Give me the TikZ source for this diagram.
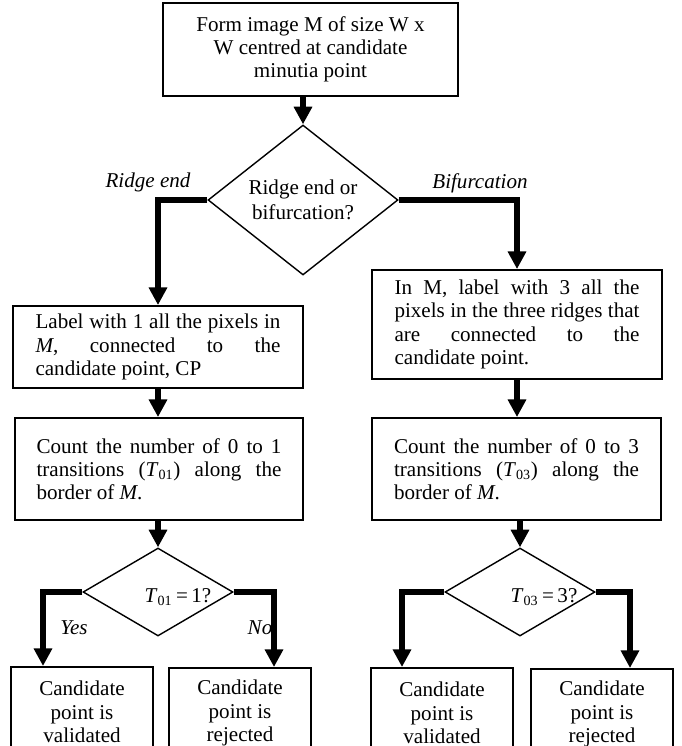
\documentclass[tikz,border=0pt]{standalone}
\usepackage{fontspec}
\setmainfont{Liberation Serif}
\usetikzlibrary{arrows.meta,shapes.geometric}

\begin{document}
\begin{tikzpicture}[x=0.02cm, y=-0.02cm,
  flow/.style={draw=black, line width=1.1pt, inner sep=0pt, align=center,
    font=\fontsize{12}{13.2}\selectfont},
  flowj/.style={flow, text width=4.9cm, align=justify},
  decide/.style={draw=black, line width=0.8pt, diamond, inner sep=0pt,
    align=center, font=\fontsize{12}{14}\selectfont},
  endbox/.style={flow, minimum width=2.84cm, minimum height=1.8cm, anchor=north},
  arr/.style={-{Triangle[length=10pt,width=10pt]}, line width=3.2pt},
  lbl/.style={font=\fontsize{12}{13}\selectfont\itshape}
]
  \useasboundingbox (0,0) rectangle (681,746);
  \node[flow, minimum width=5.9cm, minimum height=1.86cm] (form) at (310.5,49.5)
    {Form image M of size W x\\W centred at candidate\\minutia point};
  \node[decide, minimum width=3.8cm, minimum height=3cm] (choice) at (303,200)
    {Ridge end or\\bifurcation?};
  \node[lbl] (ridge) at (148,182) {Ridge end};
  \node[lbl] (bif) at (480,183) {Bifurcation};
  % ridge end side
  \node[flowj, minimum width=5.8cm, minimum height=1.64cm] (lab1) at (158,347)
    {Label with 1 all the pixels in\linebreak \textit{M}, connected to the\linebreak candidate point, CP};
  \node[flowj, minimum width=5.76cm, minimum height=2.04cm] (cnt1) at (159,469)
    {Count the number of 0 to 1\linebreak transitions (\textit{T}\textsubscript{01}) along the\linebreak border of \textit{M}.};
  \node[decide, minimum width=3cm, minimum height=1.76cm] (q1) at (158,592) {};
  \node[font=\fontsize{12}{13}\selectfont] (t01) at (178,597) {\textit{T}\textsubscript{01}\,=\,1?};
  \node[lbl] (yes) at (74,628) {Yes};
  \node[lbl] (no) at (260,628) {No};
  \node[endbox] (val1) at (82,666) {Candidate\\point is\\validated};
  \node[endbox] (rej1) at (240,667) {Candidate\\point is\\rejected};
  % bifurcation side
  \node[flowj, minimum width=5.8cm, minimum height=2.18cm] (lab3) at (517,324.5)
    {In M, label with 3 all the\linebreak pixels in the three ridges that\linebreak are connected to the\linebreak candidate point.};
  \node[flowj, minimum width=5.78cm, minimum height=2.04cm] (cnt3) at (516.5,469)
    {Count the number of 0 to 3\linebreak transitions (\textit{T}\textsubscript{03}) along the\linebreak border of \textit{M}.};
  \node[decide, minimum width=3cm, minimum height=1.76cm] (q3) at (520,592) {};
  \node[font=\fontsize{12}{13}\selectfont] (t03) at (544,597) {\textit{T}\textsubscript{03}\,=\,3?};
  \node[endbox] (val3) at (442,667) {Candidate\\point is\\validated};
  \node[endbox] (rej3) at (602,668) {Candidate\\point is\\rejected};
  \coordinate (yesc) at (43,592);
  \coordinate (noc) at (274,592);
  \coordinate (yesd) at (402,592);
  \coordinate (nod) at (630,592);
  \draw[arr] (choice.north |- form.south) -- (choice.north);
  \draw[arr] (choice.west) -| (lab1.north);
  \draw[arr] (choice.east) -| (lab3.north);
  \draw[arr] (lab1.south) -- (lab1.south |- cnt1.north);
  \draw[arr] (q1.north |- cnt1.south) -- (q1.north);
  \draw[arr] (lab3.south) -- (lab3.south |- cnt3.north);
  \draw[arr] (q3.north |- cnt3.south) -- (q3.north);
  \draw[arr] (q1.west) -- (yesc) -- (yesc |- val1.north);
  \draw[arr] (q1.east) -- (noc) -- (noc |- rej1.north);
  \draw[arr] (q3.west) -- (yesd) -- (yesd |- val3.north);
  \draw[arr] (q3.east) -- (nod) -- (nod |- rej3.north);
\end{tikzpicture}
\end{document}
